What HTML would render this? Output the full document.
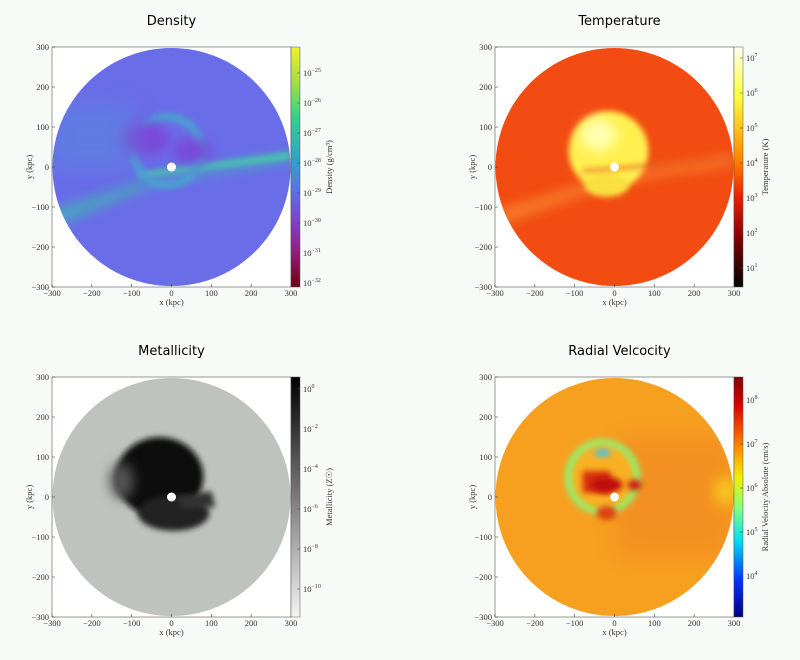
<!DOCTYPE html>
<html><head><meta charset="utf-8"><style>
body{margin:0;background:#f7fbf7;}
svg{display:block;font-family:"Liberation Serif",serif;}
.t{font-family:"DejaVu Sans","Liberation Sans",sans-serif;font-size:13px;}
.tk{font-size:8.5px;fill:#333;}
</style></head><body>
<svg id="fig" width="800" height="660" viewBox="0 0 800 660" xmlns="http://www.w3.org/2000/svg">
<defs>
<filter id="b6" x="-50%" y="-50%" width="200%" height="200%"><feGaussianBlur stdDeviation="6"/></filter>
<filter id="b3" x="-50%" y="-50%" width="200%" height="200%"><feGaussianBlur stdDeviation="3"/></filter>
<filter id="b12" x="-50%" y="-50%" width="200%" height="200%"><feGaussianBlur stdDeviation="12"/></filter>
<linearGradient id="gDen" x1="0" y1="0" x2="0" y2="1">
<stop offset="0" stop-color="#f0f020"/><stop offset="0.15" stop-color="#a0e040"/><stop offset="0.3" stop-color="#30d090"/><stop offset="0.45" stop-color="#30a8c0"/><stop offset="0.6" stop-color="#5a70e8"/><stop offset="0.72" stop-color="#8040d0"/><stop offset="0.85" stop-color="#902080"/><stop offset="1" stop-color="#700010"/></linearGradient>
<linearGradient id="gTem" x1="0" y1="0" x2="0" y2="1">
<stop offset="0" stop-color="#fffff0"/><stop offset="0.2" stop-color="#ffff40"/><stop offset="0.45" stop-color="#ff9000"/><stop offset="0.62" stop-color="#f02000"/><stop offset="0.8" stop-color="#800000"/><stop offset="1" stop-color="#000000"/></linearGradient>
<linearGradient id="gMet" x1="0" y1="0" x2="0" y2="1">
<stop offset="0" stop-color="#000"/><stop offset="1" stop-color="#f4f4f4"/></linearGradient>
<linearGradient id="gVel" x1="0" y1="0" x2="0" y2="1">
<stop offset="0" stop-color="#800000"/><stop offset="0.12" stop-color="#e00000"/><stop offset="0.3" stop-color="#ff9000"/><stop offset="0.42" stop-color="#f0f000"/><stop offset="0.55" stop-color="#80ff80"/><stop offset="0.68" stop-color="#00e0f0"/><stop offset="0.85" stop-color="#0030ff"/><stop offset="1" stop-color="#000080"/></linearGradient>
</defs>
<g id="root"></g>
</svg>
<script>
const axisTicks = [-300, -200, -100, 0, 100, 200, 300];
const titles = ["Density", "Temperature", "Metallicity", "Radial Velcocity"];
const cbLabels = ["Density (g/cm³)", "Temperature (K)", "Metallicity (Z☉)", "Radial Velocity Absolute (cm/s)"];
const denExps = [-25, -26, -27, -28, -29, -30, -31, -32];
const temExps = [7, 6, 5, 4, 3, 2, 1];
const metExps = [0, -2, -4, -6, -8, -10];
const velExps = [8, 7, 6, 5, 4];
const NS = "http://www.w3.org/2000/svg";
const root = document.getElementById('root');
function mk(tag, attrs, parent, txt){const e=document.createElementNS(NS,tag);for(const k in attrs)e.setAttribute(k,attrs[k]);if(txt!==undefined)e.textContent=txt;(parent||root).appendChild(e);return e;}
const panels = [
 {x0:52,y0:47,fill:"#6a6de8",grad:"gDen",exps:denExps,e0:-25,p0:73,step:30,id:"density"},
 {x0:495,y0:47,fill:"#f24c12",grad:"gTem",exps:temExps,e0:7,p0:58,step:35,id:"temperature"},
 {x0:52,y0:377,fill:"#bfc3bf",grad:"gMet",exps:metExps,e0:0,p0:389,step:20,id:"metallicity"},
 {x0:495,y0:377,fill:"#f7a020",grad:"gVel",exps:velExps,e0:7,p0:444,step:44,id:"radial-velocity"}
];
const W=239,H=240;
panels.forEach((p,i)=>{
 const g=mk('g',{});
 
 
 const sx=v=>p.x0+(v+300)/600*W, sy=v=>p.y0+(300-v)/600*H;
 const cx=sx(0), cy=sy(0);
 const tt=mk('text',{x:cx+(i%2?5:0),y:p.y0-22,'text-anchor':'middle',class:'t'},g,titles[i]);
 
 
 mk('rect',{x:p.x0,y:p.y0,width:W,height:H,fill:'#fff'},g);
 const cp=mk('clipPath',{id:'cp'+i},g);
 mk('circle',{cx:cx,cy:cy,r:119},cp);
 const map=mk('g',{'clip-path':'url(#cp'+i+')'},g);
 
 
 mk('rect',{x:p.x0,y:p.y0,width:W,height:H,fill:p.fill},map);
 const s=W/600;
 if(i===0){
  mk('path',{d:`M${sx(-300)},${sy(-110)} L${sx(-20)},${sy(-20)} L${sx(300)},${sy(35)} L${sx(300)},${sy(15)} L${sx(-20)},${sy(-35)} L${sx(-300)},${sy(-150)}Z`,fill:'#3eb8b0',filter:'url(#b6)',opacity:0.8},map);
  mk('path',{d:`M${sx(-80)},${sy(-15)} L${sx(300)},${sy(35)} L${sx(300)},${sy(22)} L${sx(-80)},${sy(-25)}Z`,fill:'#40d8a0',filter:'url(#b3)'},map);
  mk('ellipse',{cx:sx(-10),cy:sy(40),rx:85*s,ry:85*s,fill:'none',stroke:'#4aa0d0','stroke-width':8,filter:'url(#b3)'},map);
  mk('ellipse',{cx:sx(-70),cy:sy(70),rx:22*s*3,ry:14*s*3,fill:'#7a48d8',filter:'url(#b6)'},map);
  mk('ellipse',{cx:sx(50),cy:sy(40),rx:20,ry:12,fill:'#7a48d8',filter:'url(#b6)'},map);
  mk('rect',{x:sx(-300),y:sy(150),width:80,height:60,fill:'#5a88e0',filter:'url(#b12)',opacity:0.6},map);
 } else if(i===1){
  mk('path',{d:`M${sx(-300)},${sy(-110)} L${sx(0)},${sy(-20)} L${sx(300)},${sy(30)} L${sx(300)},${sy(5)} L${sx(0)},${sy(-40)} L${sx(-300)},${sy(-150)}Z`,fill:'#f88a30',filter:'url(#b6)',opacity:0.8},map);
  mk('ellipse',{cx:sx(-15),cy:sy(40),rx:100*s,ry:100*s,fill:'#fff050',filter:'url(#b3)'},map);
  mk('ellipse',{cx:sx(-20),cy:sy(-45),rx:55*s,ry:30*s,fill:'#f8e040',filter:'url(#b3)'},map);
  mk('ellipse',{cx:sx(-40),cy:sy(80),rx:45*s,ry:40*s,fill:'#ffffb0',filter:'url(#b6)'},map);
  mk('path',{d:`M${sx(-80)},${sy(-5)} L${sx(300)},${sy(25)} L${sx(300)},${sy(15)} L${sx(-80)},${sy(-15)}Z`,fill:'#e86020',filter:'url(#b3)',opacity:0.7},map);
 } else if(i===2){
  mk('ellipse',{cx:sx(-30),cy:sy(50),rx:110*s,ry:100*s,fill:'#101010',filter:'url(#b3)'},map);
  mk('ellipse',{cx:sx(5),cy:sy(-40),rx:90*s,ry:45*s,fill:'#202020',filter:'url(#b3)'},map);
  mk('path',{d:`M${sx(10)},${sy(0)} L${sx(100)},${sy(15)} L${sx(110)},${sy(-25)} L${sx(30)},${sy(-30)}Z`,fill:'#303030',filter:'url(#b3)'},map);
  mk('ellipse',{cx:sx(-125),cy:sy(40),rx:12,ry:18,fill:'#555',filter:'url(#b6)'},map);
 } else {
  mk('rect',{x:sx(0),y:sy(150),width:W/2,height:H/2,fill:'#f08020',filter:'url(#b12)',opacity:0.5},map);
  mk('ellipse',{cx:sx(-30),cy:sy(50),rx:95*s,ry:95*s,fill:'#90f070',filter:'url(#b3)'},map);
  mk('ellipse',{cx:sx(-30),cy:sy(50),rx:78*s,ry:80*s,fill:'#f8b020',filter:'url(#b3)'},map);
  mk('rect',{x:sx(-80),y:sy(65),width:70*s,height:55*s,fill:'#d83010',filter:'url(#b3)'},map);
  mk('ellipse',{cx:sx(-20),cy:sy(30),rx:40*s,ry:20*s,fill:'#c01010',filter:'url(#b3)'},map);
  mk('ellipse',{cx:sx(50),cy:sy(30),rx:18*s,ry:14*s,fill:'#d02010',filter:'url(#b3)'},map);
  mk('ellipse',{cx:sx(-30),cy:sy(110),rx:20*s,ry:10*s,fill:'#50c0e0',filter:'url(#b3)'},map);
  mk('ellipse',{cx:sx(-20),cy:sy(-40),rx:25*s,ry:18*s,fill:'#e04010',filter:'url(#b3)'},map);
  mk('rect',{x:sx(250),y:sy(45),width:25,height:25,fill:'#f8e020',filter:'url(#b6)',opacity:0.6},map);
 }
 mk('circle',{cx:cx,cy:cy,r:4.5,fill:'#fff'},map);
 mk('rect',{x:p.x0,y:p.y0,width:W,height:H,fill:'none',stroke:'#555','stroke-width':0.6},g);
 axisTicks.forEach(v=>{
  mk('line',{x1:sx(v),x2:sx(v),y1:p.y0+H,y2:p.y0+H-3,stroke:'#444','stroke-width':0.6},g);
  mk('line',{x1:p.x0,x2:p.x0+3,y1:sy(v),y2:sy(v),stroke:'#444','stroke-width':0.6},g);
  mk('text',{x:sx(v),y:p.y0+H+9,'text-anchor':'middle',class:'tk'},g,v<0?'\u2212'+(-v):v);
  mk('text',{x:p.x0-3,y:sy(v)+3,'text-anchor':'end',class:'tk'},g,v<0?'\u2212'+(-v):v);
 });
 const xl=mk('text',{x:cx,y:p.y0+H+18,'text-anchor':'middle',class:'tk'},g,'x  (kpc)');
 
 
 const yl=mk('text',{x:p.x0-20,y:cy,'text-anchor':'middle',class:'tk',transform:`rotate(-90 ${p.x0-20} ${cy})`},g,'y  (kpc)');
 
 
 const cbx=p.x0+W;
 const cb=mk('rect',{x:cbx,y:p.y0,width:9,height:H,fill:'url(#'+p.grad+')',stroke:'#555','stroke-width':0.5},g);
 
 
 const cyAx=e=>p.p0+(p.e0-e)*p.step;
 p.exps.forEach(e=>{
  const y=cyAx(e);
  mk('line',{x1:cbx+9,x2:cbx+6,y1:y,y2:y,stroke:'#444','stroke-width':0.5},g);
  const t=mk('text',{x:cbx+12,y:y+3,class:'tk'},g,'10');
  mk('tspan',{dy:-4,'font-size':'6px'},t,e<0?'\u2212'+(-e):String(e));
 });
 const lx=cbx+(i%2?34:41);
 const cl=mk('text',{x:lx,y:p.y0+H/2,'text-anchor':'middle',class:'tk',transform:`rotate(-90 ${lx} ${p.y0+H/2})`},g,cbLabels[i]);
 
 
});
</script>
</body></html>
